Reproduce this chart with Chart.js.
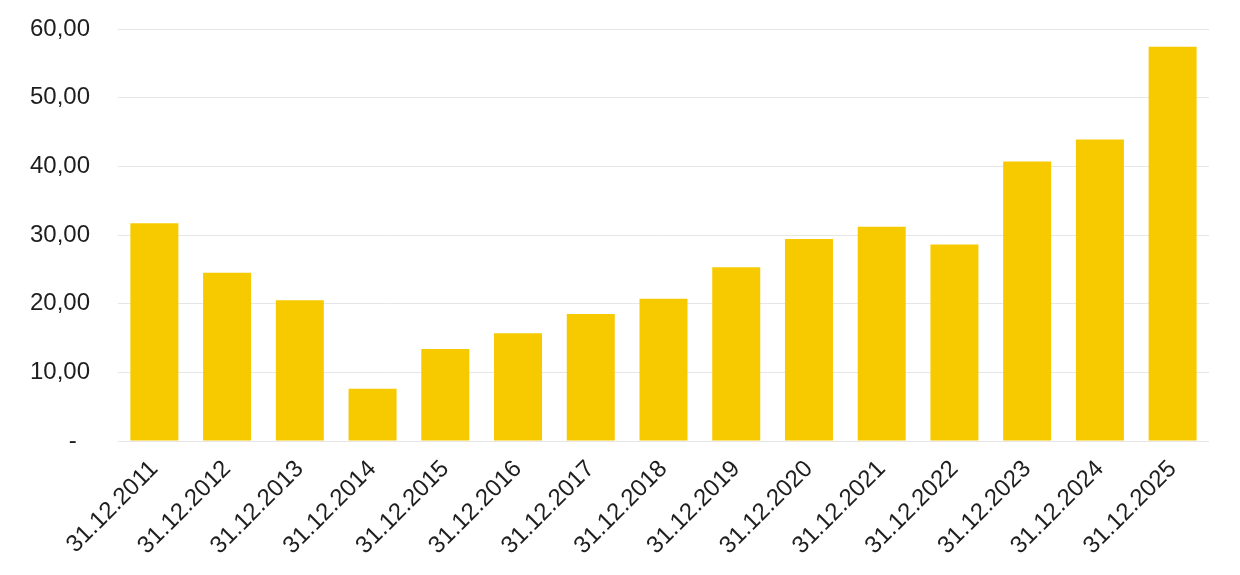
<!DOCTYPE html>
<html>
<head>
<meta charset="utf-8">
<script src="https://cdn.jsdelivr.net/npm/chart.js@4.4.0/dist/chart.umd.min.js"></script>
<style>
  html, body { margin: 0; padding: 0; background: #fff; }
  #wrap { width: 1240px; height: 575px; }
</style>
</head>
<body>
<div id="wrap"><canvas id="barChart" width="1240" height="575"></canvas></div>
<script>
// year-end values
const labels = ['31.12.2011','31.12.2012','31.12.2013','31.12.2014','31.12.2015','31.12.2016','31.12.2017','31.12.2018','31.12.2019','31.12.2020','31.12.2021','31.12.2022','31.12.2023','31.12.2024','31.12.2025'];
const values = [31.7, 24.5, 20.5, 7.6, 13.4, 15.7, 18.5, 20.7, 25.3, 29.4, 31.2, 28.6, 40.7, 43.9, 57.4];
const yTicks = [0, 10, 20, 30, 40, 50, 60];

const textColor = '#1e1e1e';
const fontFamily = '"Liberation Sans", Arial, sans-serif';

// 0 shows as a dash, others as 10,00 style
function fmt(v) {
  if (v === 0) return '-  ';
  return v.toFixed(2).replace('.', ',');
}

new Chart(document.getElementById('barChart'), {
  type: 'bar',
  data: {
    labels: labels,
    datasets: [{
      data: values,
      backgroundColor: '#F7CA00',
      borderWidth: 0,
      barPercentage: 0.66,
      categoryPercentage: 1
    }]
  },
  options: {
    responsive: false,
    animation: false,
    layout: { padding: { top: 29, right: 31, bottom: 0, left: 0 } },
    plugins: { legend: { display: false }, tooltip: { enabled: false } },
    scales: {
      x: {
        grid: { display: false },
        border: { display: false },
        ticks: {
          color: textColor,
          font: { family: fontFamily, size: 24 },
          minRotation: 45,
          maxRotation: 45,
          padding: 6
        },
        afterFit: (s) => { s.height = 134; s.paddingLeft = 0; s.paddingRight = 0; }
      },
      y: {
        min: 0,
        max: 60,
        afterBuildTicks: (s) => { s.ticks = yTicks.map(v => ({ value: v })); },
        grid: { color: '#e6e6e6', lineWidth: 1, drawTicks: false },
        border: { display: false },
        ticks: {
          color: textColor,
          font: { family: fontFamily, size: 24 },
          padding: 28,
          callback: (v) => fmt(v)
        },
        afterFit: (s) => { s.width = 118; s.paddingTop = 0; s.paddingBottom = 0; }
      }
    }
  }
});
</script>
</body>
</html>
